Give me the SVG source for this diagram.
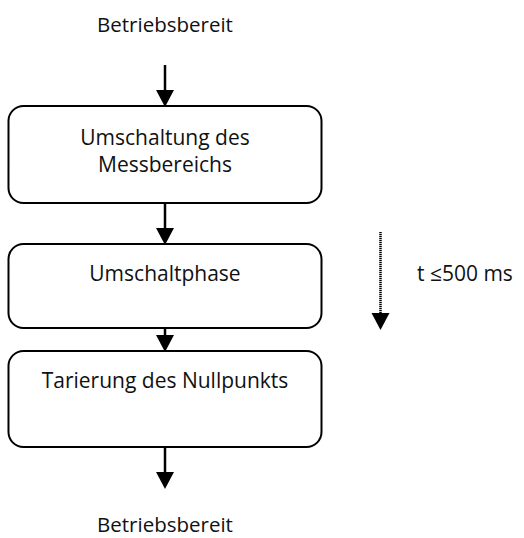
<svg xmlns="http://www.w3.org/2000/svg" width="524" height="538" viewBox="0 0 524 538">
  <style>
    .box { fill: #ffffff; stroke: #000000; stroke-width: 2; }
    .lbl { font-family: "Open Sans", "Noto Sans", "Liberation Sans", sans-serif; font-size: 21px; fill: #111111; text-anchor: middle; }
    .edge { font-size: 20.5px; }
    .flow { stroke: #000000; stroke-width: 2.5; fill: none; marker-end: url(#head); }
    .time { stroke: #000000; stroke-width: 2.5; stroke-dasharray: 1.2 0.8; fill: none; marker-end: url(#head); }
  </style>
  <defs>
    <marker id="head" markerUnits="userSpaceOnUse" markerWidth="18" markerHeight="20" viewBox="0 -9 17 18" refX="1" refY="0" orient="auto">
      <path d="M0,-8.5 L16,0 L0,8.5 z" fill="#000000"/>
    </marker>
  </defs>
  <rect width="524" height="538" fill="#ffffff"/>

  <!-- start / end labels -->
  <g id="start">
    <text class="lbl edge" x="165" y="32">Betriebsbereit</text>
  </g>
  <g id="end">
    <text class="lbl edge" x="165" y="532">Betriebsbereit</text>
  </g>

  <!-- process steps -->
  <g id="umschaltung">
    <rect class="box" x="8.5" y="106" width="313" height="97" rx="15"/>
    <text class="lbl" x="165" y="145">Umschaltung des</text>
    <text class="lbl" x="165" y="172">Messbereichs</text>
  </g>
  <g id="umschaltphase">
    <rect class="box" x="8.5" y="244" width="313" height="84" rx="15"/>
    <text class="lbl" x="165" y="281">Umschaltphase</text>
  </g>
  <g id="tarierung">
    <rect class="box" x="8.5" y="351" width="313" height="96" rx="15"/>
    <text class="lbl" x="165" y="388">Tarierung des Nullpunkts</text>
  </g>

  <!-- duration note -->
  <g id="dauer">
    <text class="lbl" x="417" y="281" style="text-anchor:start">t ≤500 ms</text>
  </g>

  <!-- connectors -->
  <g id="connectors">
    <line class="flow" x1="165" y1="65" x2="165" y2="91"/>
    <line class="flow" x1="165" y1="203" x2="165" y2="229"/>
    <line class="flow" x1="165" y1="328" x2="165" y2="336"/>
    <line class="flow" x1="165" y1="447" x2="165" y2="473"/>
    <line class="time" x1="380.5" y1="232" x2="380.5" y2="314"/>
  </g>
</svg>
